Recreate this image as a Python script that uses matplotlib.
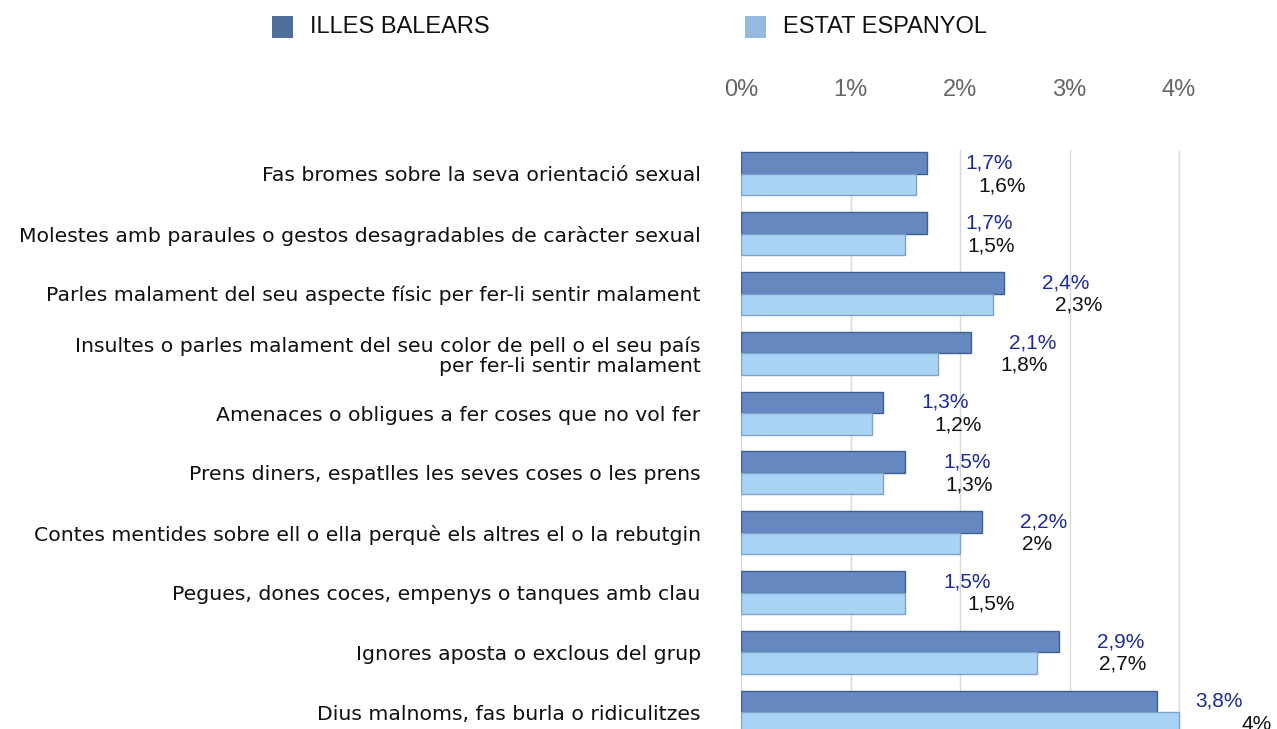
import matplotlib
matplotlib.use("Agg")
import matplotlib.pyplot as plt
from matplotlib.patches import Rectangle
import numpy as np

categories = [
    "Fas bromes sobre la seva orientació sexual",
    "Molestes amb paraules o gestos desagradables de caràcter sexual",
    "Parles malament del seu aspecte físic per fer-li sentir malament",
    "Insultes o parles malament del seu color de pell o el seu país\nper fer-li sentir malament",
    "Amenaces o obligues a fer coses que no vol fer",
    "Prens diners, espatlles les seves coses o les prens",
    "Contes mentides sobre ell o ella perquè els altres el o la rebutgin",
    "Pegues, dones coces, empenys o tanques amb clau",
    "Ignores aposta o exclous del grup",
    "Dius malnoms, fas burla o ridiculitzes",
]
illes_balears = [1.7, 1.7, 2.4, 2.1, 1.3, 1.5, 2.2, 1.5, 2.9, 3.8]
estat_espanyol = [1.6, 1.5, 2.3, 1.8, 1.2, 1.3, 2.0, 1.5, 2.7, 4.0]
series_names = ["ILLES BALEARS", "ESTAT ESPANYOL"]
xticks = [0, 1, 2, 3, 4]
xtick_labels = ["0%", "1%", "2%", "3%", "4%"]

W, H = 1277, 729
fig = plt.figure(figsize=(W / 100, H / 100), dpi=100)

x0_px, top_px = 741, 150
px_per_unit = 109.5
ax = fig.add_axes([x0_px / W, 0, (W - x0_px) / W, (H - top_px) / H])
ax.set_xlim(0, (W - x0_px) / px_per_unit)
row_px = 59.8
ax.set_ylim((H - top_px) / row_px - 0.40, -0.40)

dark = "#6488bf"
dark_edge = "#3f5f8f"
light = "#a9d4f6"
light_edge = "#7fa3c8"

y = np.arange(len(categories))
bh = 0.36
ax.barh(y - bh / 2, illes_balears, height=bh, color=dark, edgecolor=dark_edge, lw=1.0, zorder=3)
ax.barh(y + bh / 2, estat_espanyol, height=bh, color=light, edgecolor=light_edge, lw=1.0, zorder=3)

for xv in xticks:
    ax.axvline(xv, color="#d9d9d9", lw=1.0, zorder=1)

def fmt(v):
    s = f"{v:.1f}".replace(".", ",")
    if s.endswith(",0"):
        s = s[:-2]
    return s + "%"

for i, (a, b) in enumerate(zip(illes_balears, estat_espanyol)):
    ax.text(a + 0.35, i - bh / 2, fmt(a), color="#1c2a9c", fontsize=15,
            family="Liberation Sans", va="center", ha="left", clip_on=False)
    ax.text(b + 0.57, i + bh / 2 + 0.02, fmt(b), color="#111111", fontsize=15,
            family="Liberation Sans", va="center", ha="left", clip_on=False)

ax.xaxis.tick_top()
ax.set_xticks(xticks)
ax.set_xticklabels(xtick_labels, family="Liberation Sans", fontsize=17, color="#666666")
ax.tick_params(axis="x", length=0, pad=35)
ax.set_yticks(y)
ax.set_yticklabels(categories, family="DejaVu Sans", fontsize=14.7, color="#111111")
for lab in ax.get_yticklabels():
    lab.set_linespacing(1.1)
ax.tick_params(axis="y", length=0, pad=29)
for s in ax.spines.values():
    s.set_visible(False)

# legend
leg_colors = ["#4e6f9a", "#96badd"]
sw_x = [272, 745]
for name, c, sx in zip(series_names, leg_colors, sw_x):
    fig.add_artist(Rectangle((sx / W, 1 - 38 / H), 21 / W, 22 / H,
                             transform=fig.transFigure, color=c, lw=0))
    fig.text((sx + 38) / W, 1 - 27 / H, name, family="Liberation Sans",
             fontsize=17, color="#111111", va="center", ha="left")

fig.savefig("out.png", dpi=100)
